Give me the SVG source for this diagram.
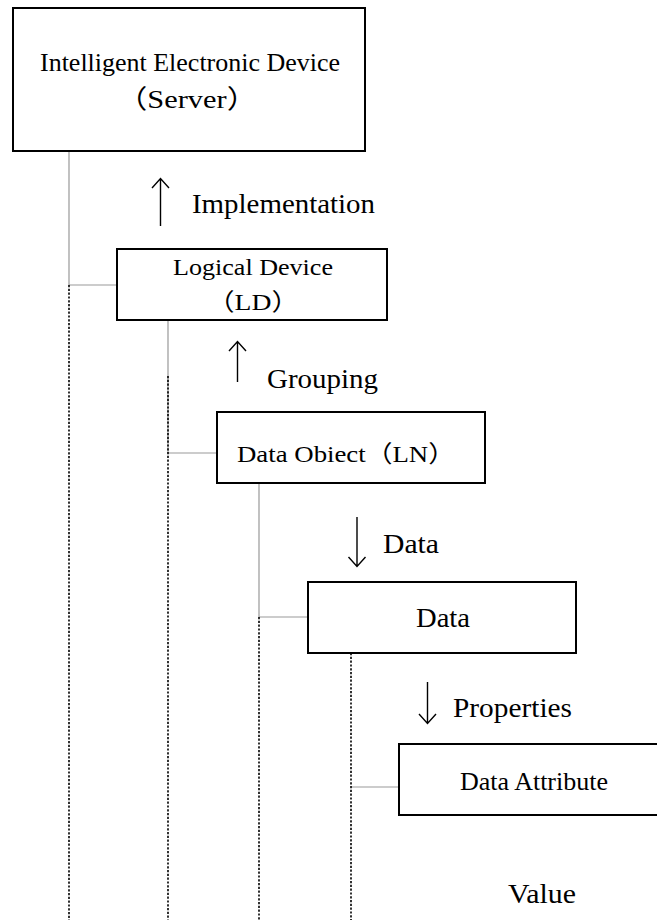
<svg xmlns="http://www.w3.org/2000/svg" width="657" height="920" viewBox="0 0 657 920">
<style>
.box{fill:#fff;stroke:#000;stroke-width:2}
.t{font-family:"Liberation Serif","Noto Sans CJK SC",serif;fill:#000;text-anchor:middle}
.lab{font-family:"Liberation Serif","Noto Sans CJK SC",serif;fill:#000;font-size:28px}
.arr{fill:none;stroke:#000;stroke-width:1.4}
.g{stroke:#999;stroke-width:1.2;fill:none}
.d{stroke:#000;stroke-width:1.6;stroke-dasharray:2.2 1.6;fill:none}
</style>
<rect width="657" height="920" fill="#fff"/>
<g id="connectors">
<path class="g" d="M69 151V285H117"/>
<path class="g" d="M168 320V453H217"/>
<path class="g" d="M259 483V617H308"/>
<path class="g" d="M351 787H399"/>
<path class="d" d="M69 285V920"/>
<path class="d" d="M168 376V920"/>
<path class="d" d="M259 617V920"/>
<path class="d" d="M351 653V920"/>
</g>
<g id="ied">
<rect class="box" x="13" y="8" width="352" height="143"/>
<text class="t" x="190" y="71" font-size="24.5" textLength="300" lengthAdjust="spacingAndGlyphs">Intelligent Electronic Device</text>
<text class="t" x="187" y="108" font-size="26" textLength="140" lengthAdjust="spacingAndGlyphs">（Server）</text>
</g>
<g id="ld">
<rect class="box" x="117" y="249" width="270" height="71"/>
<text class="t" x="253" y="275" font-size="22.5" textLength="160" lengthAdjust="spacingAndGlyphs">Logical Device</text>
<text class="t" x="253" y="310" font-size="24" textLength="92" lengthAdjust="spacingAndGlyphs">（LD）</text>
</g>
<g id="do">
<rect class="box" x="217" y="412" width="268" height="71"/>
<text class="t" x="346" y="462" font-size="23.5" textLength="218" lengthAdjust="spacingAndGlyphs">Data Obiect（LN）</text>
</g>
<g id="data">
<rect class="box" x="308" y="582" width="268" height="71"/>
<text class="t" x="443" y="627" font-size="28" textLength="54" lengthAdjust="spacingAndGlyphs">Data</text>
</g>
<g id="da">
<rect class="box" x="399" y="744" width="270" height="71"/>
<text class="t" x="534" y="790" font-size="24.5" textLength="148" lengthAdjust="spacingAndGlyphs">Data Attribute</text>
</g>
<g id="labels">
<path class="arr" d="M160.5 226V178.5M152 188L160.5 178.5L169 188"/>
<text class="lab" x="192" y="213" textLength="183" lengthAdjust="spacingAndGlyphs">Implementation</text>
<path class="arr" d="M237.5 382V341.5M229 351L237.5 341.5L246 351"/>
<text class="lab" x="267" y="388" textLength="111" lengthAdjust="spacingAndGlyphs">Grouping</text>
<path class="arr" d="M357 517V566.5M348.5 557L357 566.5L365.5 557"/>
<text class="lab" x="383" y="553" textLength="56" lengthAdjust="spacingAndGlyphs">Data</text>
<path class="arr" d="M427.5 682V723.5M419 714L427.5 723.5L436 714"/>
<text class="lab" x="453" y="717" textLength="119" lengthAdjust="spacingAndGlyphs">Properties</text>
<text class="lab" x="508" y="903" textLength="68" lengthAdjust="spacingAndGlyphs">Value</text>
</g>
</svg>
